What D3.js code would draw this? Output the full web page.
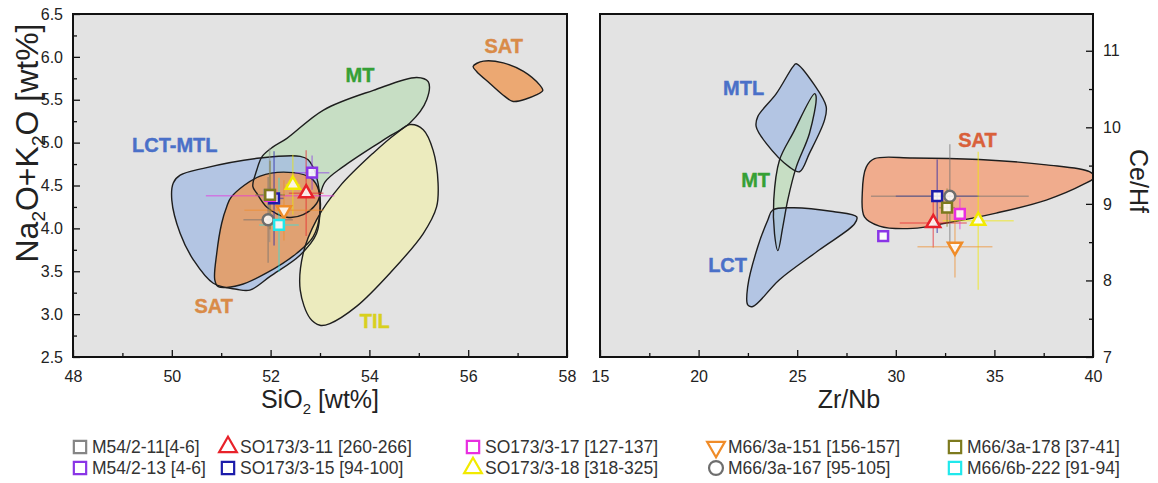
<!DOCTYPE html>
<html>
<head>
<meta charset="utf-8">
<script src="https://cdn.jsdelivr.net/npm/d3@7"></script>
<style>
  body { margin: 0; background: #fff; }
  svg { display: block; }
  text { font-family: "Liberation Sans", Arial, sans-serif; }
</style>
</head>
<body>
<svg id="chart" width="1158" height="483"></svg>
<script>
// ---- samples (legend order) ----
const samples = ["M54/2-11[4-6]", "M54/2-13 [4-6]", "SO173/3-11 [260-266]", "SO173/3-15 [94-100]",
  "SO173/3-17 [127-137]", "SO173/3-18 [318-325]", "M66/3a-151 [156-157]", "M66/3a-167 [95-105]",
  "M66/3a-178 [37-41]", "M66/6b-222 [91-94]"];
const shapes = ["square", "square", "triangle", "square", "square", "triangle", "triangleDown", "circle", "square", "square"];
const colors = ["#858585", "#8a35e6", "#e8222a", "#1c1caa", "#e82ee0", "#f2ea00", "#f08c28", "#6e6e6e", "#7d7a1e", "#20e8ec"];

// ---- left panel: SiO2 vs Na2O+K2O ----
const sio2    = [51.98, 52.84, 52.72, 52.07, 51.99, 52.45, 52.27, 51.95, 51.99, 52.17];
const alk     = [4.39, 4.65, 4.41, 4.35, 4.38, 4.51, 4.21, 4.10, 4.39, 4.04];
const sio2Err = [0.25, 0.35, 0.35, 0.2, 1.3, 0.15, 0.8, 0.5, 0.3, 0.4];
const alkErr  = [0.55, 0.2, 0.5, 0.55, 0.1, 0.35, 0.35, 0.5, 0.4, 0.55];

// ---- right panel: Zr/Nb vs Ce/Hf ----
const zrnb    = [null, 29.36, 31.9, 32.1, 33.25, 34.18, 33.0, 32.74, 32.6, null];
const cehf    = [null, 8.58, 8.75, 9.10, 8.87, 8.78, 8.44, 9.10, 8.95, null];
const zrnbErr = [null, 0, 1.7, 2.1, 0, 1.8, 1.9, 4.0, 0.4, null];
const cehfErr = [null, 0, 0.32, 0.48, 0.2, 0.9, 0.4, 0.68, 0.25, null];

// ---- axis ticks ----
const sio2Ticks = [48, 50, 52, 54, 56, 58];
const alkTicks = [2.5, 3.0, 3.5, 4.0, 4.5, 5.0, 5.5, 6.0, 6.5];
const zrnbTicks = [15, 20, 25, 30, 35, 40];
const cehfTicks = [7, 8, 9, 10, 11];

// ---- compositional fields, left panel ----
const fieldMT = [[51.64,4.49],[51.72,4.68],[51.83,4.84],[52.05,4.95],[52.33,5.05],[53.07,5.38],[54.08,5.61],
  [54.96,5.76],[55.19,5.71],[55.16,5.50],[54.82,5.23],[54.28,5.03],[53.47,4.72],[53.10,4.54],[52.93,4.29],
  [52.66,4.16],[52.33,4.13],[51.92,4.25],[51.72,4.41]];
const fieldLctMtl = [[50.03,4.53],[50.17,4.62],[50.64,4.70],[51.79,4.82],[52.60,4.84],[52.76,4.80],[52.93,4.60],
  [53.00,4.25],[52.93,3.94],[52.60,3.69],[51.99,3.44],[51.58,3.28],[51.31,3.29],[50.84,3.36],[50.44,3.63],
  [50.17,3.94],[50.00,4.33]];
const fieldSat = [[51.21,4.37],[51.79,4.61],[52.46,4.65],[52.83,4.58],[52.97,4.45],[53.00,4.18],[52.86,3.90],
  [52.53,3.71],[51.92,3.48],[51.38,3.34],[50.94,3.32],[50.87,3.40],[50.91,3.71],[51.01,4.06],[51.11,4.25]];
const fieldTil = [[54.82,5.21],[55.09,5.15],[55.29,4.91],[55.39,4.53],[55.36,4.25],[55.09,3.94],[54.42,3.48],
  [53.74,3.09],[53.20,2.89],[53.00,2.87],[52.80,2.95],[52.60,3.28],[52.66,3.71],[52.93,4.10],[53.40,4.49],
  [54.08,4.88],[54.55,5.11]];
const fieldSatHigh = [[56.10,5.89],[56.31,5.95],[56.71,5.93],[57.12,5.83],[57.45,5.67],[57.51,5.61],[57.39,5.56],
  [56.91,5.48],[56.74,5.54],[56.44,5.69],[56.17,5.83]];

// ---- compositional fields, right panel ----
const fieldMTL = [[24.95,10.83],[25.88,10.55],[26.47,10.27],[26.38,10.09],[25.62,9.66],[25.12,9.42],[24.61,9.48],
  [23.43,9.79],[22.92,10.01],[23.00,10.14],[23.94,10.44],[24.78,10.79]];
const fieldMT2 = [[25.88,10.44],[24.78,9.92],[24.10,9.57],[23.81,9.05],[23.85,8.61],[24.02,8.39],[24.27,8.70],
  [24.52,9.05],[24.95,9.48],[25.62,9.92],[25.96,10.40]];
const fieldLCT = [[23.76,8.92],[24.78,8.95],[26.81,8.90],[28.02,8.83],[27.91,8.74],[26.13,8.40],[24.10,8.01],
  [22.75,7.66],[22.49,7.68],[22.49,7.92],[23.00,8.44],[23.51,8.79]];
const fieldSat2 = [[28.92,9.59],[30.86,9.60],[34.24,9.58],[37.63,9.51],[39.82,9.42],[40.08,9.35],[39.48,9.25],
  [37.63,9.05],[35.09,8.88],[32.56,8.75],[30.86,8.68],[29.17,8.71],[28.41,8.83],[28.30,9.14],[28.50,9.48]];

const svg = d3.select("#chart");
const C = { blue: "#a3bbe3", green: "#bedcba", orange: "#ef944c", yellow: "#efedb2", salmon: "#f49a70" };
const LBL = { blue: "#4a70c8", green: "#35a035", orange: "#d98b48", yellow: "#d8d01e", salmon: "#d9603a" };

function panel(opt) {
  const g = svg.append("g");
  const x = d3.scaleLinear().domain(opt.xDomain).range([opt.left, opt.right]);
  const y = d3.scaleLinear().domain(opt.yDomain).range([opt.bottom, opt.top]);

  g.append("rect").attr("x", opt.left).attr("y", opt.top)
    .attr("width", opt.right - opt.left).attr("height", opt.bottom - opt.top).attr("fill", "#e3e3e3");

  const clipId = "clip-" + opt.id;
  svg.append("defs").append("clipPath").attr("id", clipId).append("rect")
    .attr("x", opt.left).attr("y", opt.top).attr("width", opt.right - opt.left).attr("height", opt.bottom - opt.top);

  const plot = g.append("g").attr("clip-path", `url(#${clipId})`);
  const line = d3.line().x(d => x(d[0])).y(d => y(d[1])).curve(d3.curveCatmullRomClosed.alpha(0.5));

  // field fills, then outlines
  plot.selectAll("path.fill").data(opt.fields).join("path")
    .attr("d", f => line(f.pts)).attr("fill", f => f.fill).attr("fill-opacity", 0.75);
  plot.selectAll("path.edge").data(opt.fields).join("path")
    .attr("d", f => line(f.pts)).attr("fill", "none").attr("stroke", "#1e1e1e").attr("stroke-width", 1.4);

  // field names
  plot.selectAll("text.lbl").data(opt.labels).join("text")
    .attr("x", d => x(d.at[0])).attr("y", d => y(d.at[1]))
    .attr("text-anchor", "middle").attr("font-size", 20).attr("font-weight", "bold")
    .attr("fill", d => d.color).attr("stroke", d => d.color).attr("stroke-width", 0.4)
    .text(d => d.text);

  // error bars
  const pts = samples.map((s, i) => ({ i, x: opt.xv[i], y: opt.yv[i], ex: opt.xe[i], ey: opt.ye[i] }))
    .filter(d => d.x != null);
  const eb = plot.append("g").attr("stroke-width", 1.5).attr("stroke-opacity", 0.5);
  pts.forEach(d => {
    if (d.ex > 0) eb.append("line").attr("x1", x(d.x - d.ex)).attr("x2", x(d.x + d.ex))
      .attr("y1", y(d.y)).attr("y2", y(d.y)).attr("stroke", colors[d.i]);
    if (d.ey > 0) eb.append("line").attr("x1", x(d.x)).attr("x2", x(d.x))
      .attr("y1", y(d.y - d.ey)).attr("y2", y(d.y + d.ey)).attr("stroke", colors[d.i]);
  });

  // sample markers
  plot.selectAll("path.mk").data(pts).join("path")
    .attr("transform", d => `translate(${x(d.x)},${y(d.y)})` + (shapes[d.i] === "triangleDown" ? " rotate(180)" : ""))
    .attr("d", d => markerPath(shapes[d.i], false))
    .attr("fill", "#fff").attr("fill-opacity", 0.85)
    .attr("stroke", d => colors[d.i]).attr("stroke-width", 2.5);

  // axes (ticks point inward)
  const xMaj = d3.axisBottom(x).tickValues(opt.xTicks).tickSize(-7).tickPadding(14).tickFormat(opt.xFmt);
  const xMin = d3.axisBottom(x).tickValues(opt.xMinor).tickSize(-4).tickFormat("");
  g.append("g").attr("transform", `translate(0,${opt.bottom})`).call(xMaj);
  g.append("g").attr("transform", `translate(0,${opt.bottom})`).call(xMin);

  if (opt.yRight) {
    g.append("g").attr("transform", `translate(${opt.right},0)`)
      .call(d3.axisRight(y).tickValues(opt.yTicks).tickSize(-7).tickPadding(10).tickFormat(opt.yFmt));
    g.append("g").attr("transform", `translate(${opt.right},0)`)
      .call(d3.axisRight(y).tickValues(opt.yMinor).tickSize(-4).tickFormat(""));
  } else {
    g.append("g").attr("transform", `translate(${opt.left},0)`)
      .call(d3.axisLeft(y).tickValues(opt.yTicks).tickSize(-7).tickPadding(10).tickFormat(opt.yFmt));
    g.append("g").attr("transform", `translate(${opt.left},0)`)
      .call(d3.axisLeft(y).tickValues(opt.yMinor).tickSize(-4).tickFormat(""));
  }
  g.selectAll(".domain").remove();
  g.selectAll(".tick line").attr("stroke", "#111").attr("stroke-width", 1.3);
  g.selectAll(".tick text").attr("font-size", 16).attr("fill", "#222")
    .attr("font-family", "'Liberation Sans', Arial, sans-serif");

  // frame
  g.append("rect").attr("x", opt.left).attr("y", opt.top)
    .attr("width", opt.right - opt.left).attr("height", opt.bottom - opt.top)
    .attr("fill", "none").attr("stroke", "#111").attr("stroke-width", 2);
  return { x, y };
}

function markerPath(shape, big) {
  const s = big ? 1.6 : 1;
  if (shape === "square") return d3.symbol(d3.symbolSquare, 95 * s)();
  if (shape === "circle") return d3.symbol(d3.symbolCircle, 95 * s)();
  return d3.symbol(d3.symbolTriangle, 85 * s)();
}

function range(a, b, step) { const r = []; for (let v = a; v <= b + 1e-9; v += step) r.push(+v.toFixed(3)); return r; }

panel({
  id: "left", left: 73, right: 567, top: 14, bottom: 357,
  xDomain: [48, 58], yDomain: [2.5, 6.5],
  xTicks: sio2Ticks, xMinor: range(49, 57, 2), xFmt: d3.format("d"),
  yTicks: alkTicks, yMinor: range(2.75, 6.25, 0.5), yFmt: d3.format(".1f"),
  xv: sio2, yv: alk, xe: sio2Err, ye: alkErr,
  fields: [
    { pts: fieldMT, fill: C.green },
    { pts: fieldLctMtl, fill: C.blue },
    { pts: fieldSat, fill: C.orange },
    { pts: fieldTil, fill: C.yellow },
    { pts: fieldSatHigh, fill: C.orange }
  ],
  labels: [
    { text: "SAT", at: [56.72, 6.05], color: LBL.orange },
    { text: "MT", at: [53.81, 5.71], color: LBL.green },
    { text: "LCT-MTL", at: [50.06, 4.89], color: LBL.blue },
    { text: "SAT", at: [50.85, 3.01], color: LBL.orange },
    { text: "TIL", at: [54.11, 2.84], color: LBL.yellow }
  ]
});

panel({
  id: "right", left: 600, right: 1093, top: 14, bottom: 357, yRight: true,
  xDomain: [15, 40], yDomain: [7, 11.48],
  xTicks: zrnbTicks, xMinor: range(17.5, 37.5, 5), xFmt: d3.format("d"),
  yTicks: cehfTicks, yMinor: range(7.5, 11, 1), yFmt: d3.format("d"),
  xv: zrnb, yv: cehf, xe: zrnbErr, ye: cehfErr,
  fields: [
    { pts: fieldMTL, fill: C.blue },
    { pts: fieldMT2, fill: C.green },
    { pts: fieldLCT, fill: C.blue },
    { pts: fieldSat2, fill: C.salmon }
  ],
  labels: [
    { text: "MTL", at: [22.28, 10.42], color: LBL.blue },
    { text: "MT", at: [22.89, 9.22], color: LBL.green },
    { text: "LCT", at: [21.47, 8.11], color: LBL.blue },
    { text: "SAT", at: [34.14, 9.74], color: LBL.salmon }
  ]
});

// ---- axis titles ----
const tSi = svg.append("text").attr("x", 320).attr("y", 408).attr("text-anchor", "middle")
  .attr("font-size", 25).attr("fill", "#222");
tSi.append("tspan").text("SiO");
tSi.append("tspan").attr("font-size", 15).attr("dy", 6).text("2");
tSi.append("tspan").attr("dy", -6).text(" [wt%]");

svg.append("text").attr("x", 849).attr("y", 408).attr("text-anchor", "middle")
  .attr("font-size", 25).attr("fill", "#222").text("Zr/Nb");

const tAlk = svg.append("text").attr("transform", "translate(38,143) rotate(-90)")
  .attr("text-anchor", "middle").attr("font-size", 32).attr("fill", "#222");
tAlk.append("tspan").text("Na");
tAlk.append("tspan").attr("font-size", 19).attr("dy", 7).text("2");
tAlk.append("tspan").attr("dy", -7).text("O+K");
tAlk.append("tspan").attr("font-size", 19).attr("dy", 7).text("2");
tAlk.append("tspan").attr("dy", -7).text("O [wt%]");

svg.append("text").attr("transform", "translate(1130,181) rotate(90)")
  .attr("text-anchor", "middle").attr("font-size", 25).attr("fill", "#222").text("Ce/Hf");

// ---- legend ----
const colX = [80, 228, 473, 716, 955];
const rowY = [447, 468];
const lg = svg.append("g");
samples.forEach((s, i) => {
  const cx = colX[Math.floor(i / 2)], cy = rowY[i % 2];
  lg.append("path")
    .attr("transform", `translate(${cx},${cy})` + (shapes[i] === "triangleDown" ? " rotate(180)" : ""))
    .attr("d", markerPath(shapes[i], true))
    .attr("fill", "#fff").attr("stroke", colors[i]).attr("stroke-width", 2.2);
  lg.append("text").attr("x", cx + 12).attr("y", cy + 6).attr("font-size", 17.5).attr("fill", "#333").text(s);
});
</script>
</body>
</html>
